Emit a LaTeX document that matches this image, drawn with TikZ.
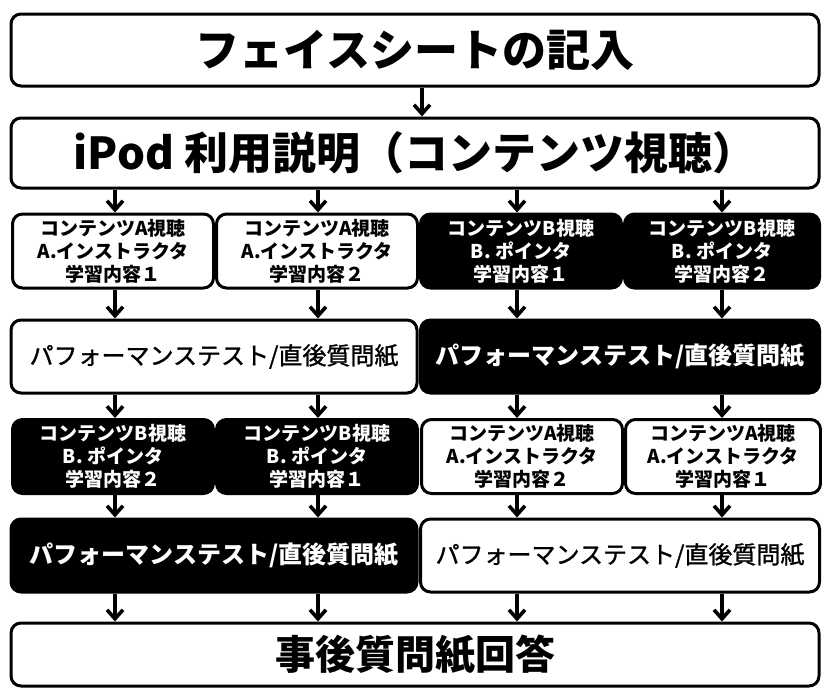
\documentclass[tikz,border=0pt]{standalone}
\usepackage{fontspec}
\setmainfont{Noto Sans CJK JP}
\newfontfamily\medfont{Noto Sans CJK JP}[FakeBold=1.2]
\usetikzlibrary{arrows.meta}
\begin{document}
\begin{tikzpicture}[x=1pt,y=-1pt,
  box/.style={draw=black,line width=3pt,rounded corners=10pt,inner sep=0pt,align=center},
  wbox/.style={box,fill=white,text=black},
  bbox/.style={box,fill=black,text=white},
  title/.style={font=\fontsize{44}{48}\selectfont\bfseries},
  small/.style={font=\fontsize{19}{23}\selectfont\bfseries,minimum width=201pt,minimum height=74pt},
  perfw/.style={font=\fontsize{24}{28}\selectfont\medfont,minimum width=406pt,minimum height=73pt},
  perfb/.style={font=\fontsize{24}{28}\selectfont\bfseries,minimum width=399pt,minimum height=73pt},
  arr/.style={draw=black,line width=3.6pt,-{Straight Barb[length=9pt,width=16pt,line width=3.6pt]}}
]
\useasboundingbox (0,0) rectangle (822,688);
% top rows
\node[wbox,title,minimum width=808pt,minimum height=72pt] (face) at (415,50) {フェイスシートの記入};
\node[wbox,title,minimum width=808pt,minimum height=70pt] (ipod) at (415,153) {iPod 利用説明（コンテンツ視聴）};
% row 3
\node[wbox,small] (a1) at (113,251) {コンテンツA視聴\\A.インストラクタ\\学習内容１};
\node[wbox,small] (a2) at (317,251) {コンテンツA視聴\\A.インストラクタ\\学習内容２};
\node[bbox,small] (a3) at (521,251) {コンテンツB視聴\\B. ポインタ\\学習内容１};
\node[bbox,small,minimum width=195pt] (a4) at (722,251) {コンテンツB視聴\\B. ポインタ\\学習内容２};
% row 4
\node[wbox,perfw] (p1) at (214,356.5) {パフォーマンステスト/直後質問紙};
\node[bbox,perfb] (p2) at (620,356.5) {パフォーマンステスト/直後質問紙};
% row 5
\node[bbox,small] (b1) at (113,456.5) {コンテンツB視聴\\B. ポインタ\\学習内容２};
\node[bbox,small] (b2) at (317,456.5) {コンテンツB視聴\\B. ポインタ\\学習内容１};
\node[wbox,small] (b3) at (522,456.5) {コンテンツA視聴\\A.インストラクタ\\学習内容２};
\node[wbox,small,minimum width=195pt] (b4) at (723,456.5) {コンテンツA視聴\\A.インストラクタ\\学習内容１};
% row 6
\node[bbox,perfb,minimum width=406pt] (q1) at (214,555.5) {パフォーマンステスト/直後質問紙};
\node[wbox,perfw,minimum width=399pt] (q2) at (620,555.5) {パフォーマンステスト/直後質問紙};
% bottom
\node[wbox,title,font=\fontsize{40}{44}\selectfont\bfseries,minimum width=808pt,minimum height=63pt] (post) at (415,654.5) {事後質問紙回答};
% arrows
\draw[arr] (face.south -| 422,0) -- (ipod.north -| 422,0);
\foreach \n/\x in {a1/115,a2/318,a3/517,a4/722}{
  \draw[arr] (ipod.south -| \x,0) -- (\n.north -| \x,0);
}
\foreach \n/\m/\x in {a1/p1/115,a2/p1/318,a3/p2/517,a4/p2/722}{
  \draw[arr] (\n.south -| \x,0) -- (\m.north -| \x,0);
}
\foreach \n/\m/\x in {p1/b1/115,p1/b2/318,p2/b3/517,p2/b4/722}{
  \draw[arr] (\n.south -| \x,0) -- (\m.north -| \x,0);
}
\foreach \n/\m/\x in {b1/q1/115,b2/q1/318,b3/q2/517,b4/q2/722}{
  \draw[arr] (\n.south -| \x,0) -- (\m.north -| \x,0);
}
\foreach \n/\x in {q1/115,q1/318,q2/517,q2/722}{
  \draw[arr] (\n.south -| \x,0) -- (post.north -| \x,0);
}
\end{tikzpicture}
\end{document}
